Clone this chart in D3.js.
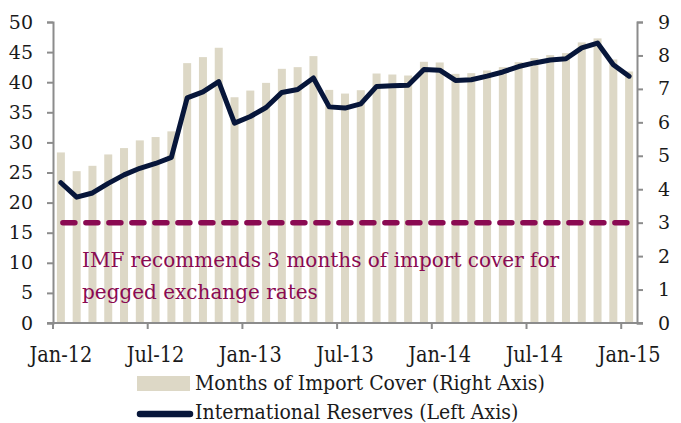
<!DOCTYPE html>
<html>
<head>
<meta charset="utf-8">
<script src="https://cdn.jsdelivr.net/npm/d3@7"></script>
<style>
  body { margin: 0; background: #fff; }
  svg text { font-family: "DejaVu Serif", serif; }
  svg text.cond { font-family: "DejaVu Serif Condensed", "DejaVu Serif", serif; font-stretch: condensed; }
</style>
</head>
<body>
<svg id="chart" width="681" height="423"></svg>
<script>
// months Jan-12 .. Jan-15
var months = d3.range(37).map(function(i) { return new Date(2012, i, 1) })

// months of import cover (right axis)
var importCover = [5.10, 4.54, 4.70, 5.04, 5.23, 5.46, 5.56, 5.73, 7.77, 7.95, 8.23, 6.75,
    6.95, 7.18, 7.60, 7.65, 7.98, 6.97, 6.86, 6.96, 7.46, 7.43, 7.40, 7.81,
    7.79, 7.45, 7.47, 7.55, 7.65, 7.80, 7.92, 8.01, 8.07, 8.39, 8.51, 7.88, 7.52]

// international reserves (left axis)
var reserves = [23.3, 20.9, 21.6, 23.2, 24.6, 25.7, 26.5, 27.5, 37.4, 38.4, 40.1, 33.2,
    34.3, 35.8, 38.3, 38.8, 40.7, 35.9, 35.7, 36.4, 39.3, 39.4, 39.5, 42.1,
    42.0, 40.3, 40.4, 41.0, 41.7, 42.6, 43.2, 43.7, 43.9, 45.7, 46.5, 42.9, 41.0]

var imfLevel = 3
var leftTicks = [0, 5, 10, 15, 20, 25, 30, 35, 40, 45, 50]
var rightTicks = [0, 1, 2, 3, 4, 5, 6, 7, 8, 9]
var xTickIdx = [0, 6, 12, 18, 24, 30, 36]
var fmt = d3.timeFormat('%b-%y')

var margin = {top: 22, right: 44, bottom: 100, left: 53}
var width = 681 - margin.left - margin.right
var height = 423 - margin.top - margin.bottom

var svg = d3.select('#chart')
var g = svg.append('g').attr('transform', 'translate(' + margin.left + ',' + margin.top + ')')

var xb = d3.scaleBand().domain(d3.range(months.length)).range([0, width])
var yL = d3.scaleLinear().domain([0, 50]).range([height, 0])
var yR = d3.scaleLinear().domain([0, 9]).range([height, 0])

var axisCol = '#8c8c8c'
var barCol = '#ddd8c6'
var lineCol = '#07163a'
var imfCol = '#8a0a52'

// bars
g.selectAll('rect.bar')
    .data(importCover)
    .join('rect')
    .attr('class', 'bar')
    .attr('x', function(d, i) { return xb(i) + xb.bandwidth() / 2 - 4 })
    .attr('width', 8)
    .attr('y', function(d) { return yR(d) })
    .attr('height', function(d) { return height - yR(d) })
    .attr('fill', barCol)

// IMF recommended line
g.append('line')
    .attr('x1', xb(0) + xb.bandwidth() / 2 + 2)
    .attr('x2', xb(36) + xb.bandwidth() / 2)
    .attr('y1', yR(imfLevel))
    .attr('y2', yR(imfLevel))
    .attr('stroke', imfCol)
    .attr('stroke-width', 5.5)
    .attr('stroke-linecap', 'round')
    .attr('stroke-dasharray', '12 11')

var note = g.append('text')
    .attr('fill', imfCol)
    .style('font-size', '20px')
note.append('tspan').attr('x', 29).attr('y', 245).text('IMF recommends 3 months of import cover for')
note.append('tspan').attr('x', 29).attr('y', 277).text('pegged exchange rates')

// reserves line
var line = d3.line()
    .x(function(d, i) { return xb(i) + xb.bandwidth() / 2 })
    .y(function(d) { return yL(d) })

g.append('path')
    .datum(reserves)
    .attr('d', line)
    .attr('fill', 'none')
    .attr('stroke', lineCol)
    .attr('stroke-width', 5)
    .attr('stroke-linejoin', 'round')
    .attr('stroke-linecap', 'round')

// axes
var leftAxis = g.append('g')
    .call(d3.axisLeft(yL).tickValues(leftTicks).tickSize(6).tickPadding(14))
var rightAxis = g.append('g')
    .attr('transform', 'translate(' + width + ',0)')
    .call(d3.axisRight(yR).tickValues(rightTicks).tickSize(6).tickPadding(15))

var bottom = g.append('g').attr('transform', 'translate(0,' + height + ')')
bottom.append('line').attr('x1', -6).attr('x2', width + 6).attr('stroke', axisCol).attr('stroke-width', 2)
bottom.selectAll('line.tk')
    .data(xTickIdx)
    .join('line')
    .attr('class', 'tk')
    .attr('x1', function(d) { return xb(d) })
    .attr('x2', function(d) { return xb(d) })
    .attr('y1', 0).attr('y2', 6)
    .attr('stroke', axisCol).attr('stroke-width', 2)
bottom.selectAll('text')
    .data(xTickIdx)
    .join('text')
    .attr('class', 'cond')
    .attr('x', function(d) { return xb(d) + xb.bandwidth() / 2 })
    .attr('y', 39)
    .attr('text-anchor', 'middle')
    .style('font-size', '21.5px')
    .attr('fill', '#1a1a1a')
    .text(function(d) { return fmt(months[d]) })

;[leftAxis, rightAxis].forEach(function(a) {
    a.select('.domain').attr('stroke', axisCol).attr('stroke-width', 2)
    a.selectAll('.tick line').attr('stroke', axisCol).attr('stroke-width', 2)
    a.selectAll('.tick text').style('font-size', '19px').attr('fill', '#1a1a1a')
    a.attr('font-family', null).attr('font-size', null)
})

// legend
var leg = svg.append('g')
leg.append('rect').attr('x', 137).attr('y', 376).attr('width', 53).attr('height', 15).attr('fill', barCol)
leg.append('line').attr('x1', 140).attr('x2', 190).attr('y1', 414).attr('y2', 414)
    .attr('stroke', lineCol).attr('stroke-width', 6.5).attr('stroke-linecap', 'round')
leg.append('text').attr('class', 'cond').attr('x', 195).attr('y', 390).style('font-size', '21px')
    .attr('fill', '#1a1a1a').text('Months of Import Cover (Right Axis)')
leg.append('text').attr('class', 'cond').attr('x', 195).attr('y', 419).style('font-size', '21px')
    .attr('fill', '#1a1a1a').text('International Reserves (Left Axis)')
</script>
</body>
</html>
